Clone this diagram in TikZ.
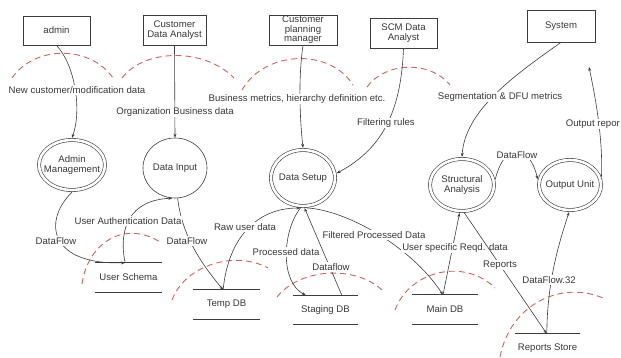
\documentclass[tikz,border=0pt]{standalone}
\usepackage{fontspec}
\setmainfont{Liberation Sans}
\usetikzlibrary{shapes.geometric,arrows.meta,calc}
\definecolor{arcred}{RGB}{205,100,95}
\definecolor{linegray}{RGB}{60,60,60}
\definecolor{textgray}{RGB}{55,55,55}
\begin{document}
\begin{tikzpicture}[x=1pt,y=-1pt,
  font=\fontsize{9.6}{10.4}\selectfont,
  every node/.style={text=textgray},
  ent/.style={draw=linegray, line width=0.7pt, rectangle, inner sep=0pt, align=center},
  proc/.style={draw=linegray, line width=0.6pt, ellipse, double, double distance=2.6pt, inner sep=0pt, outer sep=2.1pt},
  sproc/.style={draw=linegray, line width=0.6pt, ellipse, inner sep=0pt, outer sep=0.3pt},
  store/.style={inner sep=0pt, minimum height=29pt},
  storeline/.style={draw=linegray, line width=0.7pt},
  flow/.style={draw=linegray, line width=0.6pt, -{Stealth[length=4pt,width=3pt]}},
  lbl/.style={fill=white, inner sep=1pt},
  bound/.style={draw=arcred, line width=0.9pt, dash pattern=on 6pt off 4pt}
]
\useasboundingbox (0,0) rectangle (621,358);

% external entities
\node[ent, minimum width=67pt, minimum height=29pt] (admin) at (56.5,30.5) {admin};
\node[ent, minimum width=63pt, minimum height=30pt] (cda) at (174.5,30) {Customer\\Data Analyst};
\node[ent, minimum width=68pt, minimum height=30pt, font=\fontsize{9.6}{9.4}\selectfont] (cpm) at (303,30) {Customer\\planning\\manager};
\node[ent, minimum width=67pt, minimum height=30pt] (scm) at (403.5,33) {SCM Data\\Analyst};
\node[ent, minimum width=68pt, minimum height=32pt] (system) at (561,26) {System};

% processes
\node[proc, minimum width=66pt, minimum height=50pt] (adminmgmt) at (72,165) {};
\node[align=center] at (adminmgmt) {Admin\\Management};
\node[sproc, minimum width=64pt, minimum height=60pt] (datainput) at (175,168) {};
\node at (datainput) {Data Input};
\node[proc, minimum width=64pt, minimum height=56pt] (datasetup) at (303,178) {};
\node at (datasetup) {Data Setup};
\node[proc, minimum width=64pt, minimum height=52pt] (structural) at (462,185) {};
\node[align=center] at (structural) {Structural\\Analysis};
\node[proc, minimum width=62pt, minimum height=50pt] (outputunit) at (570,185) {};
\node at (outputunit) {Output Unit};

% data stores
\node[store, minimum width=67pt] (userschema) at (128.5,277.5) {User Schema};
\node[store, minimum width=67pt] (tempdb) at (226.5,304.5) {Temp DB};
\node[store, minimum width=65pt] (stagingdb) at (325.5,310) {Staging DB};
\node[store, minimum width=66pt] (maindb) at (445,309.5) {Main DB};
\node[store, minimum width=65pt] (reportsstore) at (547.5,348.5) {Reports Store};
\foreach \s in {userschema,tempdb,stagingdb,maindb}{
  \draw[storeline] (\s.north west) -- (\s.north east) (\s.south west) -- (\s.south east);
}
\draw[storeline] (reportsstore.north west) -- (reportsstore.north east);

\coordinate (usA) at ($(userschema.north west)!0.45!(userschema.north east)$);
\coordinate (tdA) at ($(tempdb.north west)!0.45!(tempdb.north east)$);
\coordinate (sdA) at ($(stagingdb.north west)!0.2!(stagingdb.north east)$);
\coordinate (sdB) at ($(stagingdb.north west)!0.75!(stagingdb.north east)$);
\coordinate (mdA) at ($(maindb.north west)!0.47!(maindb.north east)$);
\coordinate (rsA) at ($(reportsstore.north west)!0.49!(reportsstore.north east)$);
\coordinate (outtip) at (589,67);

% trust boundaries (dashed arcs)
\draw[bound] (12,78) .. controls (35,45) and (90,45) .. (113,78);
\draw[bound] (122,78) .. controls (145,48) and (205,48) .. (234,78);
\draw[bound] (242,90) .. controls (265,50) and (330,48) .. (353,85);
\draw[bound] (367,87) .. controls (385,62) and (430,60) .. (450,85);
\draw[bound] (82,284) .. controls (88,242) and (125,220) .. (160,242);
\draw[bound] (172,300) .. controls (185,265) and (235,250) .. (268,268);
\draw[bound] (277,297) .. controls (300,268) and (355,265) .. (382,290);
\draw[bound] (395,310) .. controls (410,270) and (465,258) .. (495,288);
\draw[bound] (500,357) .. controls (510,305) and (560,280) .. (603,298);

% data flows
\draw[flow] (admin.south) .. controls (75,65) and (82,110) .. (adminmgmt.north);
\draw[flow] (cda.south) -- (datainput.north);
\draw[flow] (cpm.south) .. controls (298,80) and (300,120) .. (datasetup.north);
\draw[flow] (scm.south) .. controls (401,115) and (380,150) .. (datasetup.8);
\draw[flow] (system.south) .. controls (515,75) and (465,110) .. (structural.north);
\draw[flow] (outputunit.15) .. controls (603,140) and (596,100) .. (outtip);
\draw[flow] (structural.10) .. controls (505,140) and (530,145) .. (outputunit.170);
\draw[flow] (adminmgmt.south) .. controls (42,222) and (50,265) .. (usA);
\draw[flow] (usA) .. controls (118,228) and (130,200) .. (datainput.265);
\draw[flow] (datainput.275) .. controls (182,235) and (200,262) .. (tdA);
\draw[flow] (tdA) .. controls (228,240) and (255,208) .. (datasetup.265);
\draw[flow] (datasetup.265) .. controls (282,232) and (280,282) .. (sdA);
\draw[flow] (sdB) -- (datasetup.273);
\draw[flow] (datasetup.277) .. controls (345,210) and (410,245) .. (mdA);
\draw[flow] (mdA) -- (structural.265);
\draw[flow] (rsA) .. controls (547,280) and (560,240) .. (outputunit.268);

% flow labels
\node[lbl] at (77,90) {New customer/modification data};
\node[lbl] at (175,112) {Organization Business data};
\node[lbl] at (297,99) {Business metrics, hierarchy definition etc.};
\node[lbl] at (386,123) {Filtering rules};
\node[lbl] at (500,97) {Segmentation \& DFU metrics};
\node[lbl, anchor=east] at (621,124) {Output repor};
\node[lbl] at (517,155) {DataFlow};
\node[lbl] at (56,241) {DataFlow};
\node[lbl] at (128,221) {User Authentication Data};
\node[lbl] at (187,241) {DataFlow};
\node[lbl] at (245,227) {Raw user data};
\node[lbl] at (286,252) {Processed data};
\node[lbl] at (331,267) {Dataflow};
\node[lbl] at (374,235) {Filtered Processed Data};
\node[lbl] at (455,248) {User specific Reqd. data};
\node[lbl] at (549,280) {DataFlow.32};

\draw[flow] (structural.275) -- (rsA);
\node[lbl] at (500,265) {Reports};
\end{tikzpicture}
\end{document}
